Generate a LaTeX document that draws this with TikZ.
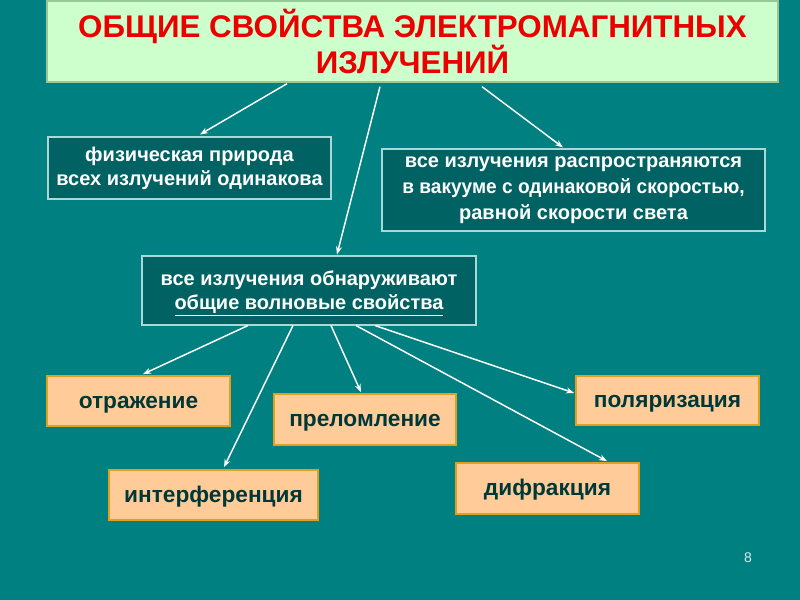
\documentclass[tikz,border=0pt]{standalone}
\usepackage{fontspec}
\setmainfont{Liberation Sans}
\usetikzlibrary{arrows.meta,calc}
\definecolor{bgteal}{RGB}{0,128,128}
\definecolor{darkteal}{RGB}{0,98,98}
\definecolor{darkedge}{RGB}{170,215,215}
\definecolor{titlefill}{RGB}{204,255,204}
\definecolor{titleedge}{RGB}{150,200,150}
\definecolor{titlered}{RGB}{235,0,0}
\definecolor{orfill}{RGB}{255,204,153}
\definecolor{oredge}{RGB}{225,160,30}
\definecolor{ortext}{RGB}{0,55,55}
\begin{document}
\begin{tikzpicture}[x=0.75pt,y=-0.75pt,
  titlebox/.style={draw=titleedge,line width=1pt,fill=titlefill,text=titlered,align=center,inner sep=0pt,
     font=\fontsize{23.5}{25}\selectfont\bfseries},
  darkbox/.style={draw=darkedge,line width=0.8pt,fill=darkteal,text=white,align=center,inner sep=0pt,
     font=\fontsize{15}{18}\selectfont\bfseries},
  orbox/.style={draw=oredge,line width=1.3pt,fill=orfill,text=ortext,inner sep=0pt,
     text height=11pt,text depth=0pt,
     font=\fontsize{17}{20}\selectfont\bfseries},
  arr/.style={draw=white,line width=1.1pt,-{Stealth[length=6pt,width=4.5pt]}}]
\fill[bgteal] (0,0) rectangle (800,600);
\useasboundingbox (0,0) rectangle (800,600);

\node[titlebox,minimum width=731*0.75pt,minimum height=81*0.75pt] (t) at (412.5,41.5)
  {ОБЩИЕ СВОЙСТВА ЭЛЕКТРОМАГНИТНЫХ\\ИЗЛУЧЕНИЙ};

\node[darkbox,minimum width=283*0.75pt,minimum height=62*0.75pt] (b1) at (189.5,168)
  {физическая природа\\всех излучений одинакова};
\node[darkbox,font=\fontsize{15}{19.5}\selectfont\bfseries,minimum width=383*0.75pt,minimum height=82*0.75pt] (b2) at (573.5,190)
  {все излучения распространяются\\\scalebox{0.955}[1]{в вакууме с одинаковой скоростью,}\\равной скорости света};
\node[darkbox,minimum width=334*0.75pt,minimum height=69*0.75pt] (b3) at (309,290.5)
  {все излучения обнаруживают\\\smash{\underline{общие волновые свойства}}};

\node[orbox,minimum width=183*0.75pt,minimum height=50*0.75pt] (o1) at (138.5,401) {отражение};
\node[orbox,minimum width=182*0.75pt,minimum height=51*0.75pt] (o2) at (365,419.5) {преломление};
\node[orbox,minimum width=183*0.75pt,minimum height=49*0.75pt] (o3) at (667.5,400.5) {поляризация};
\node[orbox,minimum width=209*0.75pt,minimum height=50*0.75pt] (o4) at (213.5,495) {интерференция};
\node[orbox,minimum width=183*0.75pt,minimum height=51*0.75pt] (o5) at (547.5,488.5) {дифракция};

\node[text=white!85!bgteal,font=\fontsize{10.5}{12}\selectfont] (pg) at (748,558) {8};

\draw[arr] ($(t.south)+(-125.5,1)$) -- ($(b1.north)+(10.5,-2)$);
\draw[arr] ($(t.south)+(-32.5,4)$) -- ($(b3.north)+(28,-1)$);
\draw[arr] ($(t.south)+(69.5,4)$) -- ($(b2.north)+(-10.5,-1)$);

\draw[arr] ($(b3.south)+(-61,0)$) -- ($(o1.north)+(4.5,-1)$);
\draw[arr] ($(b3.south)+(-16,0)$) -- ($(o4.north)+(10.5,-2)$);
\draw[arr] ($(b3.south)+(22,0)$) -- ($(o2.north)+(-4,-1)$);
\draw[arr] ($(b3.south)+(47,0)$) -- ($(o5.north)+(59.5,-1)$);
\draw[arr] ($(b3.south)+(66,0)$) -- ($(o3.west)+(-1,-7.5)$);
\end{tikzpicture}
\end{document}
